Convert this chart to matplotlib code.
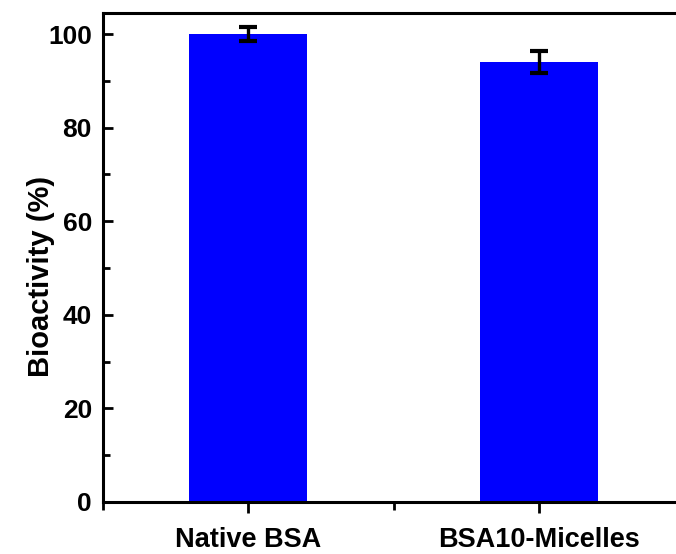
import matplotlib.pyplot as plt
from matplotlib.ticker import MultipleLocator, FixedLocator

# data
samples = ['Native BSA', 'BSA10-Micelles']
bioactivity = [100.0, 94.0]
errors = [1.4, 2.4]

plt.rcParams['font.family'] = ['Liberation Sans', 'DejaVu Sans']
plt.rcParams['font.weight'] = 'bold'

fig = plt.figure(figsize=(6.76, 5.54), dpi=100)
# right spine sits just outside the image, as in the reference
ax = fig.add_axes([0.1524, 0.0939, 0.8595, 0.8827])

x = list(range(len(samples)))
ax.bar(x, bioactivity, width=0.405, color='#0000ff', zorder=2)
ax.errorbar(x, bioactivity, yerr=errors, fmt='none', ecolor='black',
            elinewidth=2.4, capsize=6.5, capthick=3, zorder=3)

ax.set_xlim(-0.5, 1.5)
ax.set_ylim(0, 104.5)
ax.set_xticks(x)
ax.set_xticklabels(samples)
ax.xaxis.set_minor_locator(FixedLocator([-0.5, 0.5, 1.5]))
ax.yaxis.set_major_locator(MultipleLocator(20))
ax.yaxis.set_minor_locator(MultipleLocator(10))

ax.tick_params(axis='y', which='both', direction='in', width=2, labelsize=19, pad=8)
ax.tick_params(axis='y', which='major', length=7.5)
ax.tick_params(axis='y', which='minor', length=5)
ax.tick_params(axis='x', which='both', direction='out', width=2, labelsize=19.5, pad=10)
ax.tick_params(axis='x', which='major', length=8)
ax.tick_params(axis='x', which='minor', length=6)

for s in ax.spines.values():
    s.set_linewidth(2.2)

ax.set_ylabel('Bioactivity (%)', fontsize=21, fontweight='bold')
ax.yaxis.set_label_coords(-0.082, 0.462)

fig.savefig('out.png', dpi=100)
